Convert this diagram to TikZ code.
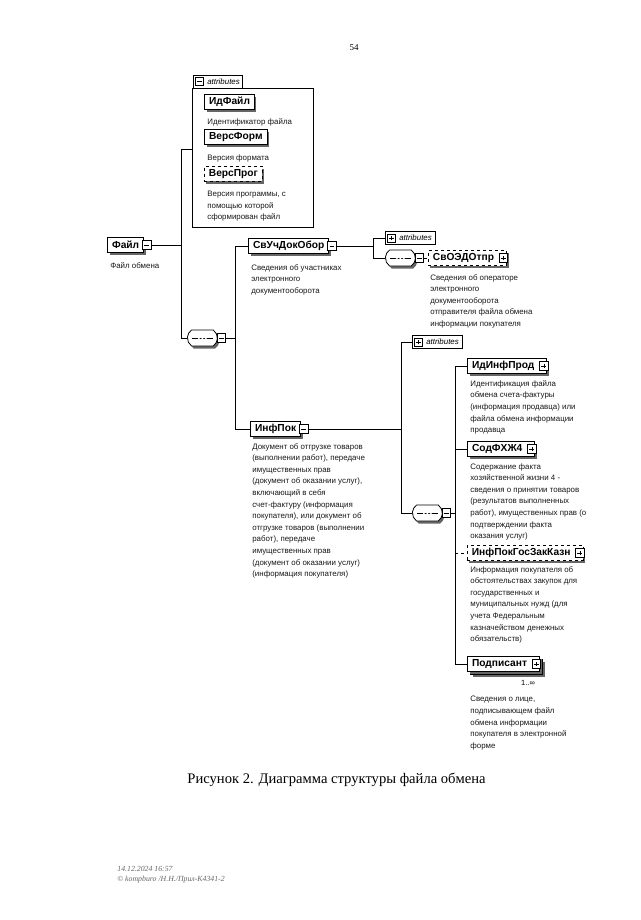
\documentclass[tikz,border=0pt]{standalone}
\usepackage{fontspec}
\setmainfont{Liberation Serif}
\setsansfont{Liberation Sans}
\usetikzlibrary{positioning, shapes.misc, shadows}

\begin{document}
\begin{tikzpicture}[x=1pt, y=-1pt, line width=0.7pt,
        font=\sffamily\fontsize{7.9}{11.6}\selectfont,
        elem/.style={draw, line width=1.1pt, fill=white, anchor=west,
            minimum height=15pt, inner xsep=4.5pt, inner ysep=0pt,
            font=\sffamily\bfseries\fontsize{10.2}{11}\selectfont,
            drop shadow={shadow xshift=2pt, shadow yshift=-2.5pt, fill=black!60, opacity=1}},
        optelem/.style={elem, dashed, line width=0.8pt},
        desc/.style={anchor=north west, inner sep=0pt, align=left, text=black!90},
        expbox/.style={draw, fill=white, line width=0.6pt, minimum size=8.5pt, inner sep=0pt, anchor=west},
        minus/.style={expbox, path picture={\draw[line width=0.6pt]
            ([xshift=1.8pt]path picture bounding box.west) -- ([xshift=-1.8pt]path picture bounding box.east);}},
        plus/.style={expbox, anchor=east, path picture={\draw[line width=0.6pt]
            ([xshift=1.8pt]path picture bounding box.west) -- ([xshift=-1.8pt]path picture bounding box.east)
            ([yshift=1.8pt]path picture bounding box.south) -- ([yshift=-1.8pt]path picture bounding box.north);}},
        seq/.style={draw, rounded rectangle, rounded rectangle arc length=110, line width=0.8pt, fill=white,
            anchor=west, minimum width=30pt, minimum height=16pt, inner sep=0pt,
            drop shadow={shadow xshift=2pt, shadow yshift=-2.5pt, fill=black!60, opacity=1},
            path picture={\draw[line width=0.7pt] ([xshift=5pt]path picture bounding box.west) -- ([xshift=-5pt]path picture bounding box.east);
                \foreach \d in {-3.5,0,3.5} \fill ([xshift=\d pt]path picture bounding box.center) circle (1.3pt);}},
        attrtab/.style={draw, fill=white, line width=0.6pt, anchor=west, minimum height=13pt,
            inner xsep=3pt, inner ysep=0pt, font=\sffamily\itshape\fontsize{7.9}{8}\selectfont},
        attrsopen/.style={attrtab, path picture={\draw[line width=0.6pt]
            ([xshift=2pt,yshift=-4pt]path picture bounding box.west) rectangle ++(8pt,8pt)
            ([xshift=3.7pt]path picture bounding box.west) -- ++(4.6pt,0pt);}},
        attrsclosed/.style={attrtab, path picture={\draw[line width=0.6pt]
            ([xshift=2pt,yshift=-4pt]path picture bounding box.west) rectangle ++(8pt,8pt)
            ([xshift=3.7pt]path picture bounding box.west) -- ++(4.6pt,0pt)
            ([xshift=6pt,yshift=-2.3pt]path picture bounding box.west) -- ++(0pt,4.6pt);}},
        attrgrp/.style={draw, line width=0.6pt, anchor=north west, minimum width=121pt, minimum height=139pt, inner sep=0pt}]
    \useasboundingbox[fill=white] (0,0) rectangle (640,920);
    \node (pnum) at (354,48) {\rmfamily\fontsize{9}{10}\selectfont 54};

    \node[elem] (fajl) at (107,245) {Файл};
    \node[minus] (fajl-x) at ([xshift=-2pt]fajl.east) {};
    \node[desc] at (110,262) {Файл обмена};

    \node[attrgrp] (attrgroup) at (192,88) {};
    \node[attrsopen, anchor=south west] (attrtab) at (193,88.5) {\hspace*{11pt}attributes};
    \coordinate (attrlink) at ([yshift=8pt]attrgroup.west);
    \node[elem] (idfajl) at (204,102) {ИдФайл};
    \node[desc] at (207,118) {Идентификатор файла};
    \node[elem] (versform) at (204,137) {ВерсФорм};
    \node[desc] at (207,154) {Версия формата};
    \node[optelem] (versprog) at (204,174) {ВерсПрог};
    \node[desc] at (207,191) {Версия программы, с\\помощью которой\\сформирован файл};

    \node[seq] (seq1) at (187,338) {};
    \node[minus] (seq1-x) at ([xshift=-1pt]seq1.east) {};

    \node[elem] (svuch) at (248,246) {СвУчДокОбор};
    \node[minus] (svuch-x) at ([xshift=-2pt]svuch.east) {};
    \node[desc] at (251,264) {Сведения об участниках\\электронного\\документооборота};

    \node[attrsclosed] (attr2) at (385,238) {\hspace*{11pt}attributes};
    \node[seq] (seq2) at (385,258) {};
    \node[minus] (seq2-x) at ([xshift=-1pt]seq2.east) {};
    \node[optelem] (svoedo) at (428,258) {СвОЭДОтпр\hspace*{8pt}};
    \node[plus] (svoedo-x) at ([xshift=1pt]svoedo.east) {};
    \node[desc] at (430,274) {Сведения об операторе\\электронного\\документооборота\\отправителя файла обмена\\информации покупателя};

    \node[elem] (infpok) at (250,429) {ИнфПок};
    \node[minus] (infpok-x) at ([xshift=-2pt]infpok.east) {};
    \node[desc] at (252,443) {Документ об отгрузке товаров\\(выполнении работ), передаче\\имущественных прав\\(документ об оказании услуг),\\включающий в себя\\счет-фактуру (информация\\покупателя), или документ об\\отгрузке товаров (выполнении\\работ), передаче\\имущественных прав\\(документ об оказании услуг)\\(информация покупателя)};

    \node[attrsclosed] (attr3) at (412,342) {\hspace*{11pt}attributes};
    \node[seq] (seq3) at (412,513) {};
    \node[minus] (seq3-x) at ([xshift=-1pt]seq3.east) {};

    \node[elem] (idinf) at (467,366) {ИдИнфПрод\hspace*{8pt}};
    \node[plus] (idinf-x) at ([xshift=1pt]idinf.east) {};
    \node[desc] at (470,380) {Идентификация файла\\обмена счета-фактуры\\(информация продавца) или\\файла обмена информации\\продавца};
    \node[elem] (sodfhzh) at (467,449) {СодФХЖ4\hspace*{8pt}};
    \node[plus] (sodfhzh-x) at ([xshift=1pt]sodfhzh.east) {};
    \node[desc] at (470,463) {Содержание факта\\хозяйственной жизни 4 -\\сведения о принятии товаров\\(результатов выполненных\\работ), имущественных прав (о\\подтверждении факта\\оказания услуг)};
    \node[optelem] (infgos) at (467,553) {ИнфПокГосЗакКазн\hspace*{8pt}};
    \node[plus] (infgos-x) at ([xshift=1pt]infgos.east) {};
    \node[desc] at (470,566) {Информация покупателя об\\обстоятельствах закупок для\\государственных и\\муниципальных нужд (для\\учета Федеральным\\казначейством денежных\\обязательств)};
    \node[elem] (podp-b) at (470,667) {\phantom{Подписант}\hspace*{8pt}};
    \node[elem] (podp) at (467,664) {Подписант\hspace*{8pt}};
    \node[plus] (podp-x) at ([xshift=1pt]podp.east) {};
    \node[font=\sffamily\fontsize{7.5}{8}\selectfont, inner sep=0pt] (podp-n) at (528,683) {1..∞};
    \node[desc] at (470,696) {Сведения о лице,\\подписывающем файл\\обмена информации\\покупателя в электронной\\форме};

    \coordinate (busA) at (181,0);
    \coordinate (busB) at (235,0);
    \coordinate (busC) at (373,0);
    \coordinate (busD) at (401,0);
    \coordinate (busE) at (455,0);

    \draw (fajl-x.east) -- (busA |- fajl-x.east);
    \draw (busA |- attrlink) -- (busA |- seq1.west);
    \foreach \n in {attrlink, seq1.west} \draw (busA |- \n) -- (\n);

    \draw (seq1-x.east) -- (busB |- seq1-x.east);
    \draw (busB |- svuch.west) -- (busB |- infpok.west);
    \foreach \n in {svuch.west, infpok.west} \draw (busB |- \n) -- (\n);

    \draw (svuch-x.east) -- (busC |- svuch-x.east);
    \draw (busC |- attr2.west) -- (busC |- seq2.west);
    \foreach \n in {attr2.west, seq2.west} \draw (busC |- \n) -- (\n);
    \draw[dashed] (seq2-x.east) -- (svoedo.west);

    \draw (infpok-x.east) -- (busD |- infpok-x.east);
    \draw (busD |- attr3.west) -- (busD |- seq3.west);
    \foreach \n in {attr3.west, seq3.west} \draw (busD |- \n) -- (\n);

    \draw (seq3-x.east) -- (busE |- seq3-x.east);
    \draw (busE |- idinf.west) -- (busE |- podp.west);
    \foreach \n in {idinf.west, sodfhzh.west, podp.west} \draw (busE |- \n) -- (\n);
    \draw[dashed] (busE |- infgos.west) -- (infgos.west);

    \node (caption) at (336.5,780) {\rmfamily\fontsize{14.6}{16}\selectfont Рисунок 2. Диаграмма структуры файла обмена};
    \node[anchor=west, inner sep=0pt, text=black!60] (stamp1) at (117,869) {\rmfamily\itshape\fontsize{7.8}{9}\selectfont 14.12.2024 16:57};
    \node[anchor=west, inner sep=0pt, text=black!60] (stamp2) at (117,880) {\rmfamily\itshape\fontsize{7.8}{9}\selectfont © kompburo /Н.Н./Прил-К4341-2};
\end{tikzpicture}
\end{document}
